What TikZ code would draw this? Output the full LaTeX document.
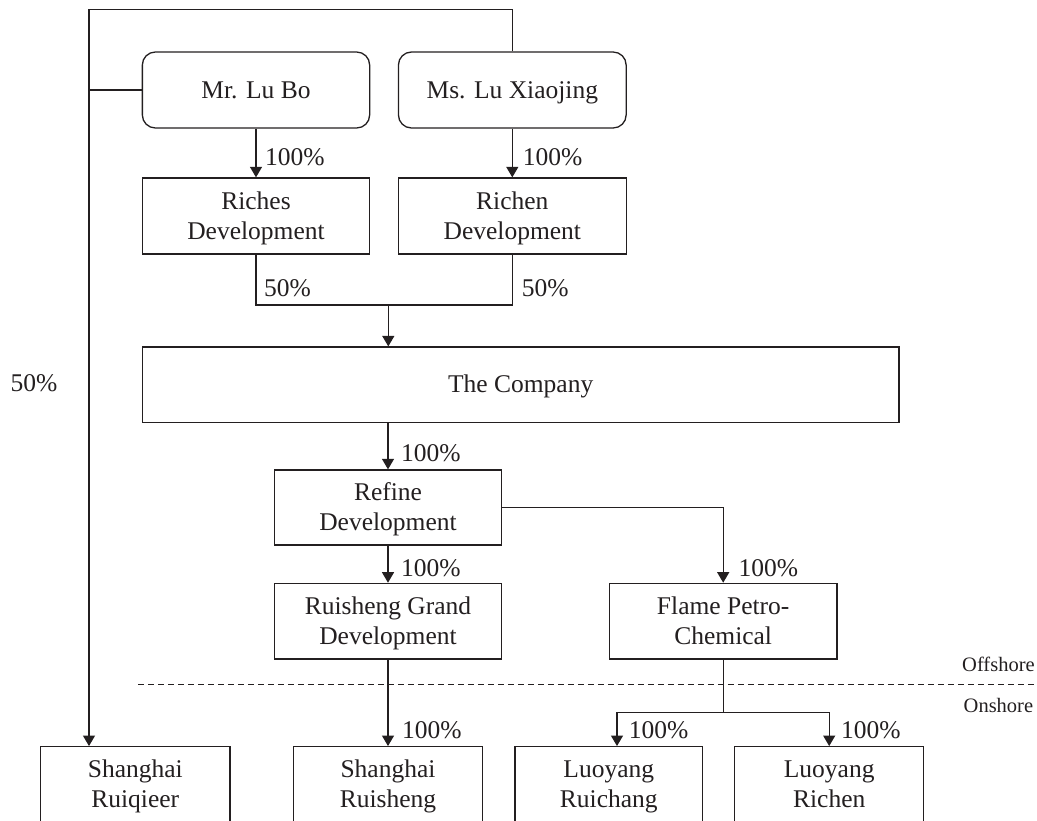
\documentclass[tikz,border=0pt]{standalone}
\usepackage{fontspec}
\setmainfont{Liberation Serif}
\usetikzlibrary{arrows.meta}
\definecolor{ink}{RGB}{35,31,32}
\newcommand{\lst}{\rule[-6pt]{0pt}{28pt}}
\begin{document}
\begin{tikzpicture}[x=1pt,y=-1pt,
  box/.style={draw=ink, line width=1.3pt, rectangle, minimum width=#1, minimum height=76pt,
    inner sep=0pt, align=center, text=ink, font=\fontsize{25.5}{30}\selectfont},
  person/.style={box=#1, rounded corners=13pt},
  conn/.style={draw=ink, line width=1.2pt},
  arr/.style={conn, -{Triangle[width=12pt,length=10.5pt]}},
  pct/.style={anchor=base west, inner sep=0pt, text=ink, font=\fontsize{25.5}{30}\selectfont},
  zone/.style={anchor=base west, inner sep=0pt, text=ink, font=\fontsize{20.5}{24}\selectfont},
  sep/.style={draw=ink, line width=1pt, dash pattern=on 6pt off 4pt}
]
\clip (0,0) rectangle (1037,820);

% nodes
\node[person=227.3pt] (lubo) at (256,90) {\lst Mr. Lu Bo};
\node[person=227.7pt] (luxj) at (512.3,90) {\lst Ms. Lu Xiaojing};
\node[box=227.3pt] (riches) at (256,216) {\lst Riches\\\lst Development};
\node[box=227.7pt] (richen) at (512.3,216) {\lst Richen\\\lst Development};
\node[box=756.6pt, minimum height=75.7pt] (company) at (520.7,384.9) {\lst The Company};
\node[box=227pt, minimum height=75pt] (refine) at (388,507.5) {\lst Refine\\\lst Development};
\node[box=227.4pt, minimum height=75.7pt] (ruisheng) at (388,621.2) {\lst Ruisheng Grand\\\lst Development};
\node[box=227.7pt, minimum height=75.7pt] (flame) at (723.2,621.2) {\lst Flame Petro-\\\lst Chemical};
\node[box=189.3pt] (sruiqieer) at (135.3,784.7) {\lst Shanghai\\\lst Ruiqieer};
\node[box=189.4pt] (sruisheng) at (388,784.7) {\lst Shanghai\\\lst Ruisheng};
\node[box=187.7pt] (lruichang) at (608.8,784.7) {\lst Luoyang\\\lst Ruichang};
\node[box=189pt] (lrichen) at (829.2,784.7) {\lst Luoyang\\\lst Richen};

% helper coordinates
\coordinate (tl) at (89,9.3);
\coordinate (jtop) at (388.3,305);
\coordinate (jfl) at (723.2,712.3);
\coordinate (jl) at (617,712.3);
\coordinate (jr) at (829.2,712.3);
\coordinate (dashA) at (138.3,684);
\coordinate (dashB) at (1037,684);

% outer loop from Ms. Lu Xiaojing to Shanghai Ruiqieer
\draw[arr] (luxj.north) |- (tl) -- (sruiqieer.north -| tl);
\draw[conn] (lubo.west) -- (lubo.west -| tl);

% persons to holdings
\draw[arr] (lubo) -- (riches);
\draw[arr] (luxj) -- (richen);

% holdings to company
\draw[conn] (riches.south) |- (jtop) -| (richen.south);
\draw[arr] (jtop) -- (jtop |- company.north);

% company down
\draw[arr] (refine.north |- company.south) -- (refine.north);
\draw[arr] (refine) -- (ruisheng);
\draw[arr] (refine.east) -| (flame.north);
\draw[arr] (ruisheng) -- (sruisheng);

% flame to Luoyang
\draw[conn] (flame.south) -- (jfl);
\draw[arr] (jfl) -- (jl) -- (jl |- lruichang.north);
\draw[arr] (jfl) -- (jr) -- (lrichen.north);

% offshore / onshore separator
\draw[sep] (dashA) -- (dashB);

% labels
\node[pct] (p50l) at (10.5,391.5) {50\%};
\node[pct] (p1) at (265,165) {100\%};
\node[pct] (p2) at (522.7,165) {100\%};
\node[pct] (p3) at (264,296) {50\%};
\node[pct] (p4) at (521.7,296) {50\%};
\node[pct] (p5) at (401,461) {100\%};
\node[pct] (p6) at (401,576) {100\%};
\node[pct] (p7) at (738.5,576) {100\%};
\node[pct] (p8) at (402,738.3) {100\%};
\node[pct] (p9) at (628.7,738.3) {100\%};
\node[pct] (p10) at (841,738.3) {100\%};
\node[zone] (off) at (962,671) {Offshore};
\node[zone] (on) at (963.5,712.3) {Onshore};
\end{tikzpicture}
\end{document}
